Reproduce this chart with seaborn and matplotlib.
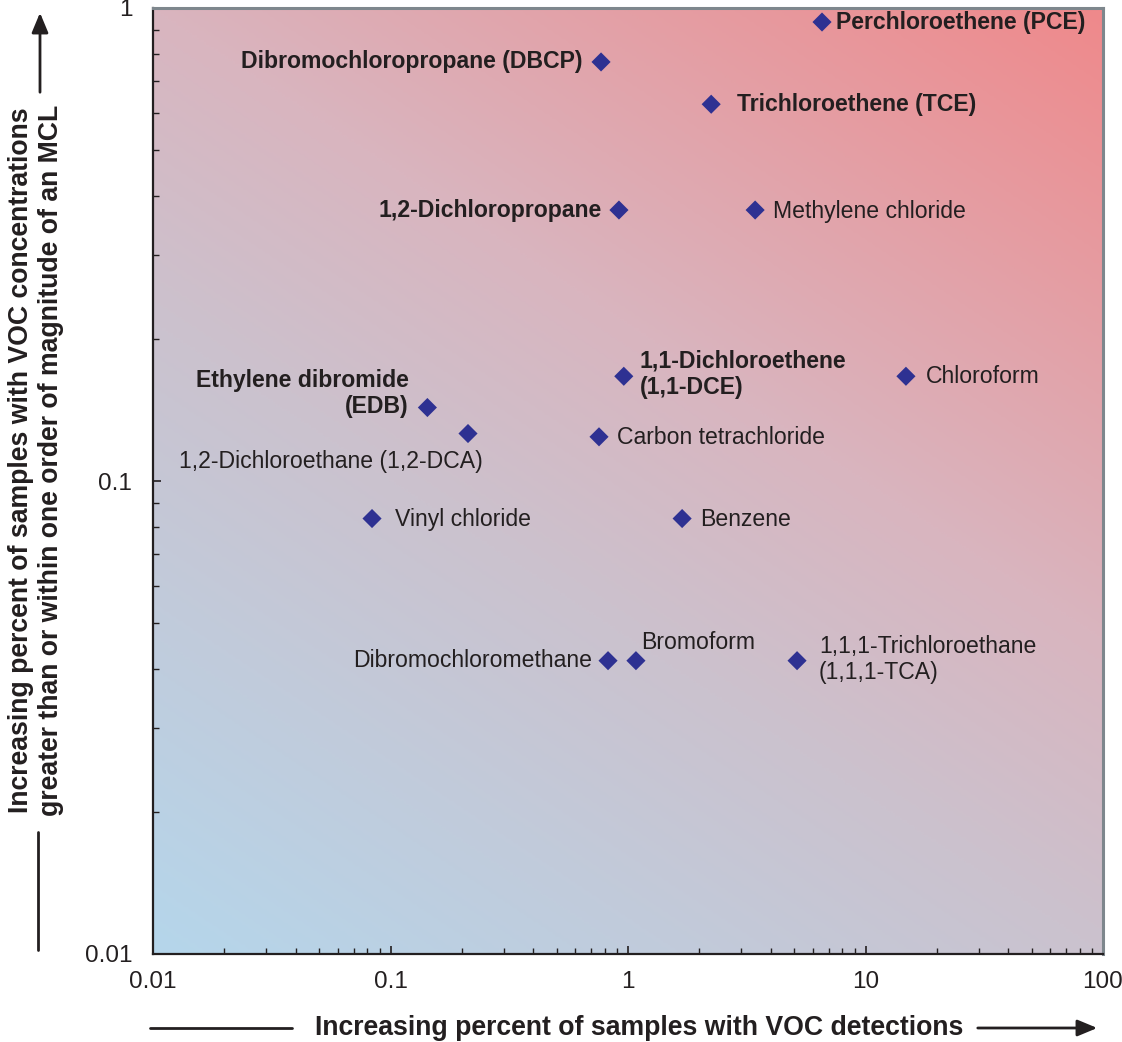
import numpy as np
import pandas as pd
import matplotlib
matplotlib.use("Agg")
import matplotlib.pyplot as plt
from matplotlib.colors import LinearSegmentedColormap
from matplotlib.ticker import LogLocator, FixedLocator, NullFormatter
import seaborn as sns

# ---- data ----
compounds = [
    "Perchloroethene (PCE)", "Dibromochloropropane (DBCP)", "Trichloroethene (TCE)",
    "1,2-Dichloropropane", "Methylene chloride", "1,1-Dichloroethene\n(1,1-DCE)",
    "Chloroform", "Ethylene dibromide\n(EDB)", "1,2-Dichloroethane (1,2-DCA)",
    "Carbon tetrachloride", "Vinyl chloride", "Benzene", "Dibromochloromethane",
    "Bromoform", "1,1,1-Trichloroethane\n(1,1,1-TCA)",
]
pct_detections = [6.56, 0.77, 2.24, 0.916, 3.43, 0.96, 14.8, 0.143, 0.212,
                  0.755, 0.0836, 1.69, 0.824, 1.08, 5.15]
pct_mcl = [0.934, 0.769, 0.626, 0.374, 0.374, 0.1665, 0.1665, 0.143, 0.126,
           0.124, 0.0833, 0.0833, 0.0417, 0.0417, 0.0417]
bold_flags = [True, True, True, True, False, True, False, True, False,
              False, False, False, False, False, False]
x_ticks = [0.01, 0.1, 1, 10, 100]
x_ticklabels = ["0.01", "0.1", "1", "10", "100"]
y_ticks = [0.01, 0.1, 1]
y_ticklabels = ["0.01", "0.1", "1"]

# label placement (pixel offsets, alignment)
label_pos = [
    (14, 0, "left"), (-19, 0, "right"), (26, 0, "left"),
    (-17, 0, "right"), (18, -1, "left"), (16, 2, "left"),
    (20, 0, "left"), (-19, 14, "right"), (15, -28, "right"),
    (18, -1, "left"), (23, -1, "left"), (18, -1, "left"), (-16, 0, "right"),
    (5, 18, "left"), (22, 1, "left"),
]

df = pd.DataFrame({"compound": compounds, "det": pct_detections, "mcl": pct_mcl})

sns.set_theme(style="white")
plt.rcParams["font.family"] = ["Liberation Sans", "DejaVu Sans"]
TXT = "#231F20"

W, H = 1122, 1042
fig = plt.figure(figsize=(W / 100, H / 100), dpi=100)
L, R, T, B = 153, 1103, 8, 954
pos = [L / W, 1 - B / H, (R - L) / W, (B - T) / H]

# gradient background
bg = fig.add_axes(pos, zorder=0)
cmap = LinearSegmentedColormap.from_list(
    "grad", [(0.0, "#B5D6EB"), (0.4, "#CBC2CE"), (0.6, "#D9B5BF"), (1.0, "#EF898B")])
uu, vv = np.meshgrid(np.linspace(0, 1, 400), np.linspace(0, 1, 400))
tt = 0.4 * uu + 0.6 * vv
bg.imshow(tt, cmap=cmap, origin="lower", extent=[0, 1, 0, 1], aspect="auto",
          vmin=0, vmax=1, interpolation="bilinear")
bg.axis("off")

ax = fig.add_axes(pos, zorder=1)
ax.patch.set_alpha(0)
sns.scatterplot(data=df, x="det", y="mcl", marker="D", s=95, color="#2E3192",
                edgecolor="none", ax=ax, zorder=3, legend=False)
ax.set_xscale("log")
ax.set_yscale("log")
ax.set_xlim(0.01, 100)
ax.set_ylim(0.01, 1)
ax.set_xlabel("")
ax.set_ylabel("")

ax.xaxis.set_major_locator(FixedLocator(x_ticks))
ax.set_xticklabels(x_ticklabels)
ax.yaxis.set_major_locator(FixedLocator(y_ticks))
ax.set_yticklabels(y_ticklabels)
ax.xaxis.set_minor_locator(LogLocator(base=10, subs=np.arange(2, 10)))
ax.yaxis.set_minor_locator(LogLocator(base=10, subs=np.arange(2, 10)))
ax.xaxis.set_minor_formatter(NullFormatter())
ax.yaxis.set_minor_formatter(NullFormatter())
ax.tick_params(axis="both", which="both", direction="in", color=TXT,
               labelcolor=TXT, labelsize=17.5, left=True, bottom=True,
               top=False, right=False)
ax.tick_params(axis="both", which="major", length=6, width=1.2)
ax.tick_params(axis="both", which="minor", length=4, width=1.0)
ax.tick_params(axis="y", which="major", pad=15)
ax.tick_params(axis="x", which="major", pad=12)

for side in ["left", "bottom"]:
    ax.spines[side].set_color(TXT)
    ax.spines[side].set_linewidth(1.6)
for side in ["top", "right"]:
    ax.spines[side].set_color("#7E878D")
    ax.spines[side].set_linewidth(2.2)

for name, xv, yv, bf, (dx, dy, ha) in zip(compounds, pct_detections, pct_mcl,
                                         bold_flags, label_pos):
    ax.annotate(name, (xv, yv), xytext=(dx, dy), textcoords="offset pixels",
                ha=ha, va="center", multialignment=ha, fontsize=16.6,
                fontweight="bold" if bf else "normal", color=TXT,
                linespacing=1.15, zorder=4)

# axis titles with arrows
fig.text(639 / W, 1 - 1028 / H, "Increasing percent of samples with VOC detections",
         ha="center", va="center", fontsize=19.2, fontweight="bold", color=TXT)
fig.add_artist(plt.Line2D([150 / W, 292 / W], [1 - 1028 / H] * 2, color=TXT, lw=2))
fig.text(36 / W, 1 - 460 / H,
         "Increasing percent of samples with VOC concentrations\n"
         "greater than or within one order of magnitude of an MCL",
         ha="center", va="center", rotation=90, fontsize=19.2, fontweight="bold",
         color=TXT, linespacing=1.2)
fig.add_artist(plt.Line2D([38 / W] * 2, [1 - 832 / H, 1 - 950 / H], color=TXT, lw=2))
fig.patches.append(matplotlib.patches.FancyArrowPatch(
    (975 / W, 1 - 1028 / H), (1100 / W, 1 - 1028 / H), transform=fig.transFigure,
    arrowstyle="-|>,head_length=12,head_width=5", mutation_scale=1,
    color=TXT, lw=2))
fig.patches.append(matplotlib.patches.FancyArrowPatch(
    (40 / W, 1 - 95 / H), (40 / W, 1 - 10 / H), transform=fig.transFigure,
    arrowstyle="-|>,head_length=12,head_width=5", mutation_scale=1,
    color=TXT, lw=2))

fig.savefig("out.png", dpi=100)
